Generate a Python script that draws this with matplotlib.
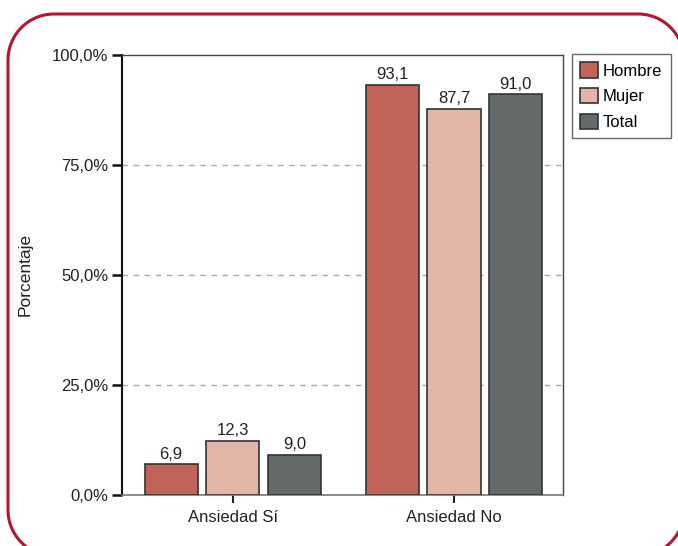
import numpy as np
import matplotlib.pyplot as plt
from matplotlib.patches import Polygon

plt.rcParams['font.family'] = ['Liberation Sans', 'DejaVu Sans']

# ============================================================
# DATA
# ============================================================
categories = ['Ansiedad Sí', 'Ansiedad No']
hombre = [6.9, 93.1]
mujer = [12.3, 87.7]
total = [9.0, 91.0]
series_names = ['Hombre', 'Mujer', 'Total']
y_ticks = [0, 25, 50, 75, 100]

colors = ['#c0645a', '#e3b5a6', '#646a69']

# ============================================================
# PLOT
# ============================================================
W, H = 678, 546
fig = plt.figure(figsize=(W / 100, H / 100), dpi=100)

# background layer in pixel coords for the rounded red frame
bg = fig.add_axes([0, 0, 1, 1], zorder=-1)
bg.set_xlim(0, W)
bg.set_ylim(H, 0)
bg.axis('off')

x0, y0, x1, y1, r = 8, 14, 684, 556, 46
corners = [(x1 - r, y0 + r, -90, 0), (x1 - r, y1 - r, 0, 90),
           (x0 + r, y1 - r, 90, 180), (x0 + r, y0 + r, 180, 270)]
pts = []
for cx, cy, a0, a1 in corners:
    a = np.radians(np.linspace(a0, a1, 30))
    pts.extend(zip(cx + r * np.cos(a), cy + r * np.sin(a)))
bg.add_patch(Polygon(pts, closed=True, fill=False, edgecolor='#b5152e',
                     linewidth=2.2, joinstyle='round'))

ax = fig.add_axes([122 / W, 1 - 494.7 / H, 441 / W, 440 / H])

x = np.arange(len(categories))
width = 0.24
step = 0.28
for i, (name, vals) in enumerate(zip(series_names, [hombre, mujer, total])):
    bars = ax.bar(x + (i - 1) * step, vals, width, color=colors[i],
                  edgecolor='#333333', linewidth=1.2, label=name, zorder=3)
    ax.bar_label(bars, labels=[f'{v:.1f}'.replace('.', ',') for v in vals],
                 padding=2, fontsize=12, color='#222222')

ax.set_xlim(-0.502, 1.493)
ax.set_ylim(0, 100)
ax.set_yticks(y_ticks)
ax.set_yticklabels([f'{t:.1f}'.replace('.', ',') + '%' for t in y_ticks],
                   fontsize=12, color='#222222')
ax.set_xticks(x)
ax.set_xticklabels(categories, fontsize=12, color='#222222')

ax.tick_params(axis='y', length=7, width=1.8, color='#111111', pad=3)
ax.tick_params(axis='x', length=6, width=1.5, color='#222222', pad=5)

for t in [25, 50, 75]:
    ax.axhline(t, color='#aaaaaa', linestyle=(0, (4, 4)), linewidth=1, zorder=1)

ax.spines['left'].set_color('#111111')
ax.spines['left'].set_linewidth(1.5)
ax.spines['bottom'].set_color('#777777')
ax.spines['bottom'].set_linewidth(1.2)
for s in ['top', 'right']:
    ax.spines[s].set_color('#444444')
    ax.spines[s].set_linewidth(1.0)

ax.set_ylabel('Porcentaje', fontsize=12.5, color='#222222')
ax.yaxis.set_label_coords(-0.202, 0.5)

leg = fig.legend(loc='upper left', bbox_to_anchor=(572 / W, 1 - 54 / H),
                 fontsize=12, frameon=True, fancybox=False, edgecolor='#444444',
                 handlelength=1.05, handleheight=1.05, handletextpad=0.3,
                 labelspacing=0.55, borderpad=0.5, borderaxespad=0)
leg.get_frame().set_linewidth(1.0)
for h in leg.legend_handles:
    h.set_edgecolor('#333333')

plt.savefig('out.png', dpi=100)
